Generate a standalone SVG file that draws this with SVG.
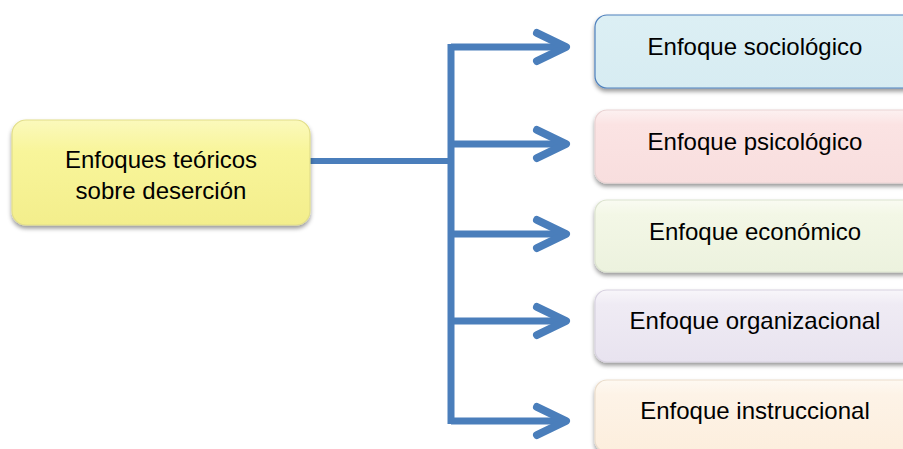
<svg xmlns="http://www.w3.org/2000/svg" width="903" height="449" viewBox="0 0 903 449">
<defs>
<style>
.lbl{font-family:"Liberation Sans",Arial,sans-serif;font-size:24px;fill:#000;text-anchor:middle}
.box{stroke-width:1.2}
.con{fill:none;stroke:#4A7EBB;stroke-linecap:round;stroke-linejoin:round}
.ln{fill:none;stroke:#4A7EBB;stroke-linecap:butt}
</style>
<filter id="sh" x="-10%" y="-20%" width="120%" height="150%">
<feDropShadow dx="0" dy="3" stdDeviation="2" flood-color="#000" flood-opacity="0.4"/>
</filter>
<linearGradient id="gY" x1="0" y1="0" x2="0" y2="1"><stop offset="0" stop-color="#FBF9BC"/><stop offset="0.3" stop-color="#F8F59A"/><stop offset="1" stop-color="#F3EE8C"/></linearGradient>
<linearGradient id="gB" x1="0" y1="0" x2="0" y2="1"><stop offset="0" stop-color="#DCEFF4"/><stop offset="1" stop-color="#D7ECF2"/></linearGradient>
<linearGradient id="gP" x1="0" y1="0" x2="0" y2="1"><stop offset="0" stop-color="#FCF1F1"/><stop offset="0.2" stop-color="#FBE3E3"/><stop offset="1" stop-color="#F8DEDE"/></linearGradient>
<linearGradient id="gG" x1="0" y1="0" x2="0" y2="1"><stop offset="0" stop-color="#F9FBF2"/><stop offset="0.2" stop-color="#F3F7E6"/><stop offset="1" stop-color="#ECF2DE"/></linearGradient>
<linearGradient id="gL" x1="0" y1="0" x2="0" y2="1"><stop offset="0" stop-color="#F8F6FA"/><stop offset="0.2" stop-color="#EFEBF4"/><stop offset="1" stop-color="#E8E3EF"/></linearGradient>
<linearGradient id="gO" x1="0" y1="0" x2="0" y2="1"><stop offset="0" stop-color="#FEF9F2"/><stop offset="0.2" stop-color="#FDF3E7"/><stop offset="1" stop-color="#FCEEDD"/></linearGradient>
</defs>
<g id="connectors">
<path class="ln" stroke-width="6" d="M310 161 H451"/>
<path class="ln" stroke-width="7" d="M451 44 V424"/>
<g stroke-width="7">
<path class="ln" d="M451 47 H564"/>
<path class="ln" d="M451 144 H564"/>
<path class="ln" d="M451 234 H564"/>
<path class="ln" d="M451 321 H564"/>
<path class="ln" d="M451 421 H564"/>
</g>
<g stroke-width="8">
<path class="con" d="M537 33 L566 47 L537 61"/>
<path class="con" d="M537 130 L566 144 L537 158"/>
<path class="con" d="M537 220 L566 234 L537 248"/>
<path class="con" d="M537 307 L566 321 L537 335"/>
<path class="con" d="M537 407 L566 421 L537 435"/>
</g>
</g>
<g id="main">
<rect class="box" x="12" y="120" width="298" height="105" rx="14" fill="url(#gY)" stroke="#E2DE8A" filter="url(#sh)"/>
<text class="lbl" x="161" y="168">Enfoques teóricos</text>
<text class="lbl" x="161" y="199">sobre deserción</text>
</g>
<g id="sociologico">
<rect class="box" x="595" y="15" width="320" height="73" rx="12" fill="url(#gB)" stroke="#4F81BD" filter="url(#sh)"/>
<text class="lbl" x="755" y="55">Enfoque sociológico</text>
</g>
<g id="psicologico">
<rect class="box" x="595" y="110" width="320" height="73" rx="12" fill="url(#gP)" stroke="#EAD3D3" filter="url(#sh)"/>
<text class="lbl" x="755" y="150">Enfoque psicológico</text>
</g>
<g id="economico">
<rect class="box" x="595" y="200" width="320" height="72" rx="12" fill="url(#gG)" stroke="#DCE3CF" filter="url(#sh)"/>
<text class="lbl" x="755" y="240">Enfoque económico</text>
</g>
<g id="organizacional">
<rect class="box" x="595" y="290" width="320" height="72" rx="12" fill="url(#gL)" stroke="#D8D2E0" filter="url(#sh)"/>
<text class="lbl" x="755" y="329">Enfoque organizacional</text>
</g>
<g id="instruccional">
<rect class="box" x="595" y="380" width="320" height="72" rx="12" fill="url(#gO)" stroke="#EBDDCB" filter="url(#sh)"/>
<text class="lbl" x="755" y="419">Enfoque instruccional</text>
</g>
</svg>
